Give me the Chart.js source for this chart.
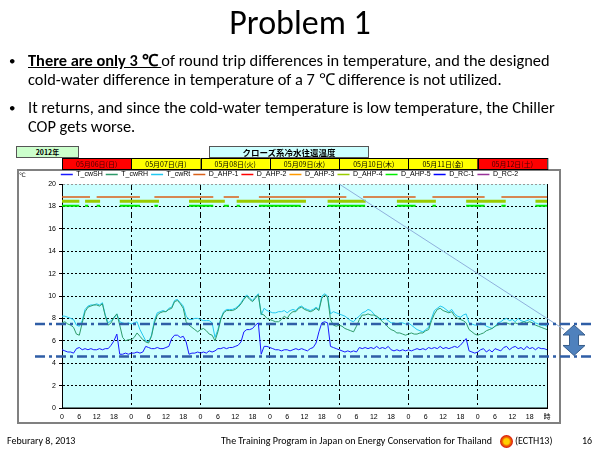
<!DOCTYPE html>
<html>
<head>
<meta charset="utf-8">
<script src="https://cdn.jsdelivr.net/npm/chart.js@4.4.1/dist/chart.umd.min.js"></script>
<style>
body { margin: 0; width: 600px; height: 450px; position: relative; overflow: hidden; background: #fff; font-family: Carlito, Calibri, Lato, sans-serif; }
#c { position: absolute; left: 0; top: 0; }
.t { position: absolute; white-space: nowrap; color: #000; }
.line { font-size: 16.4px; line-height: 19px; left: 28px; }
.dot { font-size: 13px; line-height: 19px; left: 9px; }
.foot { font-size: 10px; line-height: 12px; top: 435px; }
.box { position: absolute; border: 1px solid #555; text-align: center; font-weight: bold; box-sizing: border-box; }
</style>
</head>
<body>
<canvas id="c" width="600" height="450"></canvas>

<div class="t" style="left:0;width:600px;text-align:center;top:3px;font-size:34px;line-height:40px;">Problem 1</div>
<div class="t dot" style="top:51px;">•</div>
<div class="t line" style="top:51px;"><b><u>There are only 3 ℃ </u></b>of round trip differences in temperature, and the designed</div>
<div class="t line" style="top:70px;">cold-water difference in temperature of a 7 ℃ difference is not utilized.</div>
<div class="t dot" style="top:98px;">•</div>
<div class="t line" style="top:98px;">It returns, and since the cold-water temperature is low temperature, the Chiller</div>
<div class="t line" style="top:117px;">COP gets worse.</div>

<div class="box" style="left:16px;top:146px;width:63px;height:12px;background:#ccffcc;font:bold 7px/10px 'Noto Sans CJK JP';">2012年</div>
<div class="box" style="left:209px;top:146px;width:160px;height:12px;background:#ccffff;font:bold 8.5px/10px 'Noto Sans CJK JP';">クローズ系冷水往還温度</div>
<div class="t" style="left:19px;top:171px;font:6px/8px 'DejaVu Sans';">℃</div>

<div class="t foot" style="left:7px;">Feburary 8, 2013</div>
<div class="t foot" style="left:221px;">The Training Program in Japan on Energy Conservation for Thailand</div>
<div class="t" style="left:500px;top:435px;width:13px;height:13px;border-radius:50%;background:radial-gradient(circle, #ffd000 0 30%, #f07000 45%, #d81010 70%);"></div>
<div class="t foot" style="left:515px;">(ECTH13)</div>
<div class="t foot" style="left:582px;">16</div>

<script>
// x axis: hours from 05/06 0:00
const hours = Array.from({ length: 169 }, (_, i) => i);
const dayLabels = ['05月06日(日)', '05月07日(月)', '05月08日(火)', '05月09日(水)', '05月10日(木)', '05月11日(金)', '05月12日(土)'];
const weekend = [true, false, false, false, false, false, true];

// T_cwSH  supply temperature
const cwSH = [
  5.2,5.1,5.0,5.0,4.9,5.3,5.4,5.2,5.3,5.2,5.3,5.2,5.2,5.3,5.2,5.3,5.3,5.6,6.0,6.6,4.8,4.8,4.9,4.8,
  4.9,4.9,5.0,4.9,5.0,5.5,5.4,5.3,5.3,5.4,5.3,5.3,5.4,5.5,6.2,6.5,6.5,6.3,6.4,5.9,4.8,4.9,4.9,5.0,
  4.9,5.0,4.9,5.1,5.0,5.1,5.3,5.3,5.4,5.3,5.4,5.4,5.5,5.6,5.9,6.8,7.0,7.0,7.1,7.4,7.6,4.8,5.5,5.5,
  5.4,5.3,5.2,5.2,5.1,5.2,5.2,5.1,5.2,5.3,5.2,5.3,5.2,5.1,5.3,5.4,5.8,6.8,7.6,7.7,7.6,5.5,5.4,5.3,
  5.2,5.1,5.0,5.1,5.0,5.1,5.0,5.4,5.3,5.4,5.3,5.4,5.3,5.5,5.3,5.4,5.3,5.5,5.2,5.1,5.2,5.1,5.2,5.1,
  5.2,5.1,5.2,5.3,5.2,5.3,5.2,5.4,5.3,5.4,5.3,5.5,5.3,5.4,5.3,5.4,5.5,5.4,5.6,5.9,6.2,5.1,5.0,4.9,
  5.0,5.2,5.3,5.0,5.2,5.0,5.3,5.2,5.1,5.4,5.5,5.2,5.4,5.5,5.3,5.4,5.2,5.5,5.3,5.4,5.2,5.4,5.3,5.3,5.2
];
// T_cwRH  return temperature
const cwRH = [
  7.6,7.7,7.5,7.4,7.2,6.6,6.5,7.6,8.6,9.0,9.1,9.2,9.2,9.1,9.3,8.2,7.4,7.6,8.1,8.4,7.4,6.3,6.0,6.1,
  6.1,6.3,6.7,6.4,6.1,5.9,5.8,6.4,7.6,8.3,8.5,8.6,8.6,8.8,8.9,9.5,9.6,9.3,8.9,7.7,7.4,7.2,7.0,6.8,
  7.0,7.1,6.9,6.6,6.5,6.0,6.8,7.9,8.5,8.7,8.7,8.7,8.8,9.0,9.3,9.7,10.0,9.7,9.5,9.8,10.1,8.4,8.3,8.0,
  7.9,7.8,7.7,7.7,7.9,8.2,8.0,8.4,8.6,8.6,8.9,9.0,8.8,8.7,8.6,8.7,8.9,8.7,9.8,10.1,9.9,7.9,7.4,7.3,
  7.4,7.3,7.1,7.0,6.9,6.8,7.3,7.9,8.3,8.3,8.4,8.3,8.3,8.2,8.0,7.7,7.5,7.2,7.0,6.9,6.7,6.7,6.6,6.5,
  6.6,6.7,6.6,6.6,6.7,6.7,6.9,7.0,7.8,8.4,8.8,8.9,8.7,8.6,8.5,8.6,8.2,8.0,7.9,7.8,7.6,7.0,6.8,6.6,
  6.5,6.6,6.7,6.9,7.0,7.1,7.3,7.4,7.5,7.6,7.6,7.5,7.5,7.6,7.5,7.6,7.7,7.6,7.7,7.6,7.4,7.3,7.2,7.1,7.0
];
// T_cwRt
const cwRt = [
  8.2,8.2,8.1,8.0,7.9,7.4,7.3,7.8,8.8,9.1,9.2,9.2,9.3,9.2,9.4,8.3,7.6,7.8,8.0,8.4,7.7,7.6,7.5,7.6,
  7.5,7.6,7.7,7.0,6.5,6.0,5.9,6.5,7.8,8.5,8.6,8.7,8.6,8.9,9.0,9.6,9.7,9.4,9.1,8.2,7.9,7.9,8.0,8.0,
  7.9,7.8,7.8,7.8,7.6,6.3,7.0,8.0,8.6,8.8,8.8,8.8,8.9,9.1,9.4,9.8,10.1,9.8,9.6,9.9,10.2,8.3,8.9,8.7,
  8.6,8.5,8.5,8.6,8.6,8.7,8.5,8.7,8.8,8.7,9.0,9.1,8.9,8.8,8.7,8.8,9.0,8.8,10.0,10.2,10.0,8.4,8.6,8.5,
  8.4,8.3,8.2,8.0,7.8,7.7,8.0,8.2,8.5,8.6,8.8,8.7,8.4,8.1,7.9,7.9,8.0,7.8,7.6,7.6,7.5,7.6,7.6,7.5,
  7.6,7.4,7.2,7.0,6.9,6.8,7.0,7.2,8.0,8.7,8.9,9.1,9.0,8.8,8.6,8.8,8.4,8.2,8.1,8.3,8.4,7.6,7.5,7.4,
  7.4,7.6,7.5,7.3,7.2,7.1,7.3,7.6,7.7,7.9,8.0,7.8,7.9,7.7,8.0,7.8,7.7,7.8,7.9,7.8,7.6,7.5,7.4,7.4,7.3
];

// on/off status lines: [start hour, end hour]
const ahp1On = [[0, 9.7], [12, 27], [32, 52.4], [56, 61.3], [68.2, 98.5], [104.3, 122.5], [128.3, 146.4], [152.2, 168]];
const ahp4On = [[0, 6], [8, 13.2], [20, 33.6], [44, 56.4], [60.5, 84.5], [92, 105.2], [116, 129.5], [140, 153.7], [164, 168]];
const ahp5On = [[0, 6], [8, 9.1], [12, 13.2], [20, 27], [32, 33.3], [44, 52.4], [56, 57.8], [60.5, 61.6], [68.2, 82.7],
                [92, 105], [116, 122.5], [128.3, 129.5], [140, 146.4], [152.2, 153.7], [164, 168]];
const statusLevel = { ahp1: 18.85, ahp4: 18.45, ahp5: 18.05 };

// hand drawn marks on the slide (in chart units)
const refLevels = [7.5, 4.6];
const diagonal = [[96, 20], [174, 7.0]];

function series(arr) {
    return hours.map((h, i) => ({ x: h, y: arr[i] }));
}

function segments(list, level) {
    let pts = [];
    list.forEach(s => {
        pts.push({ x: s[0], y: level }, { x: s[1], y: level }, { x: s[1], y: null });
    });
    return pts;
}

function ds(label, color, data, width) {
    return { label: label, data: data, borderColor: color, backgroundColor: color, borderWidth: width || 1,
             pointRadius: 0, fill: false, tension: 0, spanGaps: false };
}

const slidePlugin = {
    id: 'slide',
    afterLayout(chart) {
        // legend sits a little lower, closer to the plot
        chart.legend.top += 4;
    },
    beforeDraw(chart) {
        const ctx = chart.ctx, a = chart.chartArea, xs = chart.scales.x;
        ctx.save();
        ctx.fillStyle = '#fff';
        ctx.fillRect(18, 170, 542, 253);
        ctx.strokeStyle = '#808080';
        ctx.lineWidth = 2;
        ctx.strokeRect(18, 170, 542, 253);
        ctx.fillStyle = '#ccffff';
        ctx.fillRect(a.left, a.top, a.right - a.left, a.bottom - a.top);

        ctx.font = "7px 'Noto Sans CJK JP'";
        ctx.textAlign = 'center';
        ctx.textBaseline = 'middle';
        dayLabels.forEach((d, i) => {
            const x0 = xs.getPixelForValue(i * 24), x1 = xs.getPixelForValue((i + 1) * 24);
            ctx.fillStyle = weekend[i] ? '#ff0000' : '#ffff00';
            ctx.fillRect(x0, 158, x1 - x0, 11);
            ctx.strokeStyle = '#000';
            ctx.lineWidth = 1;
            ctx.strokeRect(Math.round(x0) + 0.5, 158.5, x1 - x0, 11);
            ctx.fillStyle = weekend[i] ? '#400000' : '#000';
            ctx.fillText(d, (x0 + x1) / 2, 164);
        });
        ctx.restore();
    },
    beforeDatasetsDraw(chart) {
        const ctx = chart.ctx, a = chart.chartArea;
        ctx.save();
        ctx.strokeStyle = '#000';
        ctx.lineWidth = 1;
        ctx.beginPath();
        ctx.moveTo(a.left, a.bottom);
        ctx.lineTo(a.right + 0.5, a.bottom);
        ctx.lineTo(a.right + 0.5, a.top);
        ctx.stroke();
        ctx.restore();
    },
    afterDraw(chart) {
        const ctx = chart.ctx, xs = chart.scales.x, ys = chart.scales.y;
        ctx.save();
        // thin diagonal connector
        ctx.strokeStyle = '#8fb0dc';
        ctx.lineWidth = 1;
        ctx.beginPath();
        ctx.moveTo(xs.getPixelForValue(diagonal[0][0]), ys.getPixelForValue(diagonal[0][1]));
        ctx.lineTo(xs.getPixelForValue(diagonal[1][0]), ys.getPixelForValue(diagonal[1][1]));
        ctx.stroke();

        // dash-dot reference lines
        ctx.strokeStyle = '#2f5ea6';
        ctx.lineWidth = 2.5;
        ctx.setLineDash([10, 4, 3, 4]);
        refLevels.forEach(v => {
            const y = ys.getPixelForValue(v);
            ctx.beginPath();
            ctx.moveTo(35, y);
            ctx.lineTo(594, y);
            ctx.stroke();
        });
        ctx.setLineDash([]);

        // double arrow between the two levels
        const top = ys.getPixelForValue(refLevels[0]) + 1, bot = ys.getPixelForValue(refLevels[1]) - 1;
        const cx = 574, hw = 11, sw = 4.5, hh = 10;
        ctx.beginPath();
        ctx.moveTo(cx, top);
        ctx.lineTo(cx + hw, top + hh);
        ctx.lineTo(cx + sw, top + hh);
        ctx.lineTo(cx + sw, bot - hh);
        ctx.lineTo(cx + hw, bot - hh);
        ctx.lineTo(cx, bot);
        ctx.lineTo(cx - hw, bot - hh);
        ctx.lineTo(cx - sw, bot - hh);
        ctx.lineTo(cx - sw, top + hh);
        ctx.lineTo(cx - hw, top + hh);
        ctx.closePath();
        ctx.fillStyle = '#4f81bd';
        ctx.fill();
        ctx.strokeStyle = '#385d8a';
        ctx.lineWidth = 1;
        ctx.stroke();
        ctx.restore();
    }
};

Chart.defaults.font.family = "'Liberation Sans', 'Noto Sans CJK JP', sans-serif";
Chart.defaults.color = '#000';

let chart = new Chart(document.getElementById('c'), {
    type: 'line',
    data: {
        datasets: [
            ds('T_cwSH', '#1a1aff', series(cwSH)),
            ds('T_cwRH', '#2e9a6a', series(cwRH)),
            ds('T_cwRt', '#22c8f0', series(cwRt)),
            ds('D_AHP-1', '#d9601a', segments(ahp1On, statusLevel.ahp1), 1.5),
            ds('D_AHP-2', '#ff0000', []),
            ds('D_AHP-3', '#ff9900', []),
            ds('D_AHP-4', '#99cc00', segments(ahp4On, statusLevel.ahp4), 3),
            ds('D_AHP-5', '#00ee00', segments(ahp5On, statusLevel.ahp5), 2),
            ds('D_RC-1', '#0000ff', []),
            ds('D_RC-2', '#993399', [])
        ]
    },
    options: {
        responsive: false,
        animation: false,
        events: [],
        layout: { padding: { left: 32, right: 53, top: 164, bottom: 27 } },
        plugins: {
            legend: {
                position: 'top',
                labels: {
                    usePointStyle: true,
                    pointStyle: 'line',
                    pointStyleWidth: 12,
                    boxHeight: 6,
                    padding: 3,
                    font: { size: 7 },
                    color: '#000',
                    generateLabels(c) {
                        const items = Chart.defaults.plugins.legend.labels.generateLabels(c);
                        items.forEach(it => { it.lineWidth = 1.5; });
                        return items;
                    }
                }
            },
            tooltip: { enabled: false }
        },
        scales: {
            x: {
                type: 'linear',
                min: 0,
                max: 168,
                afterFit: s => { s.height = 15; },
                ticks: {
                    stepSize: 6,
                    autoSkip: false,
                    maxRotation: 0,
                    padding: 2,
                    font: { size: 7 },
                    callback: v => (v === 168 ? '時' : String(v % 24))
                },
                grid: {
                    color: c => (c.tick && c.tick.value % 24 === 0 ? '#000' : 'rgba(0,0,0,0)'),
                    tickColor: 'rgba(0,0,0,0)',
                    tickLength: 3,
                    lineWidth: 1
                },
                border: { color: '#000', dash: [6, 3, 2, 3] }
            },
            y: {
                min: 0,
                max: 20,
                afterFit: s => { s.width = 30; },
                ticks: { stepSize: 2, padding: 3, font: { size: 7 } },
                grid: {
                    color: c => (c.tick && c.tick.value === 20 ? '#999' : '#000'),
                    tickColor: '#000',
                    tickLength: 3,
                    lineWidth: 1
                },
                border: { color: '#000', dash: [2, 2] }
            }
        }
    },
    plugins: [slidePlugin]
});
</script>
</body>
</html>
